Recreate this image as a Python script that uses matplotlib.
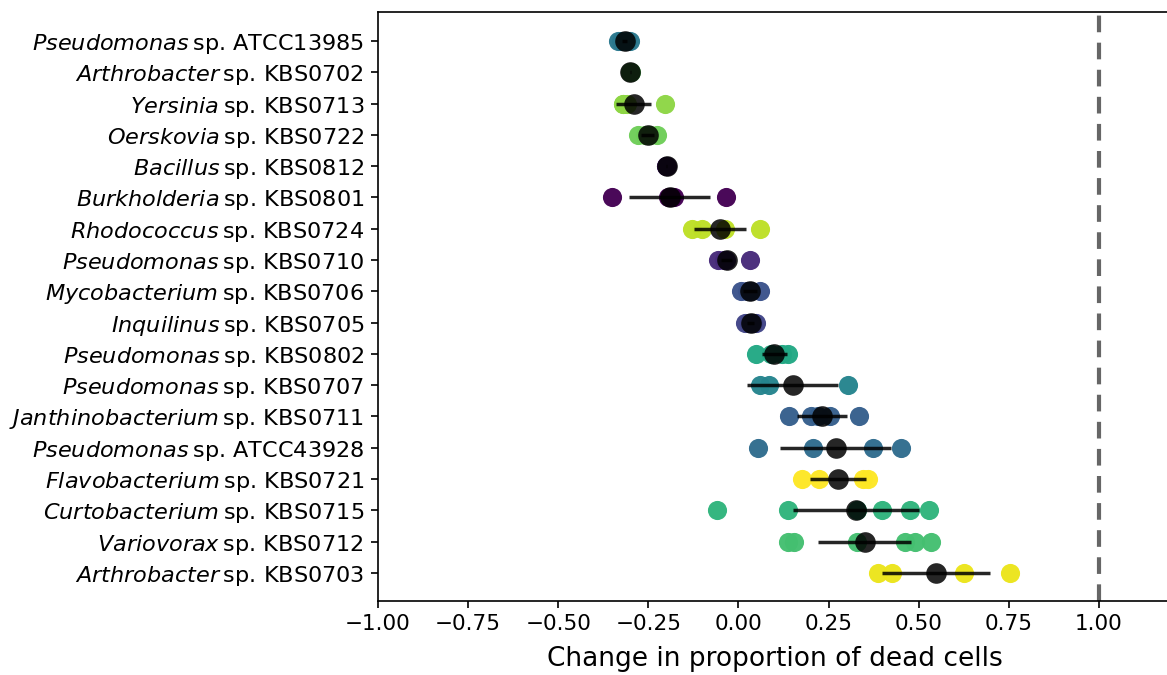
import matplotlib
matplotlib.use("Agg")
import matplotlib.pyplot as plt

genus = ["Pseudomonas", "Arthrobacter", "Yersinia", "Oerskovia", "Bacillus", "Burkholderia",
         "Rhodococcus", "Pseudomonas", "Mycobacterium", "Inquilinus", "Pseudomonas", "Pseudomonas",
         "Janthinobacterium", "Pseudomonas", "Flavobacterium", "Curtobacterium", "Variovorax", "Arthrobacter"]
strain = ["ATCC13985", "KBS0702", "KBS0713", "KBS0722", "KBS0812", "KBS0801",
          "KBS0724", "KBS0710", "KBS0706", "KBS0705", "KBS0802", "KBS0707",
          "KBS0711", "ATCC43928", "KBS0721", "KBS0715", "KBS0712", "KBS0703"]

points = [
    [-0.335, -0.325, -0.30, -0.31],
    [-0.30, -0.298, -0.302],
    [-0.32, -0.32, -0.31, -0.205],
    [-0.28, -0.26, -0.245, -0.225],
    [-0.20, -0.198, -0.202],
    [-0.352, -0.195, -0.185, -0.18, -0.035],
    [-0.128, -0.10, -0.037, 0.060],
    [-0.058, -0.04, -0.035, 0.032],
    [0.008, 0.025, 0.035, 0.06],
    [0.018, 0.03, 0.04, 0.05],
    [0.048, 0.09, 0.12, 0.138],
    [0.06, 0.086, 0.304],
    [0.141, 0.20, 0.22, 0.255, 0.334],
    [0.053, 0.206, 0.374, 0.450],
    [0.176, 0.223, 0.345, 0.36],
    [-0.06, 0.137, 0.33, 0.399, 0.477, 0.53],
    [0.137, 0.153, 0.329, 0.463, 0.491, 0.534],
    [0.386, 0.426, 0.626, 0.753],
]
means = [-0.316, -0.30, -0.291, -0.252, -0.199, -0.191, -0.051, -0.033, 0.032, 0.034,
         0.099, 0.150, 0.232, 0.270, 0.276, 0.325, 0.350, 0.548]
errors = [0.008, 0.002, 0.048, 0.017, 0.002, 0.112, 0.071, 0.015, 0.020, 0.010,
          0.035, 0.126, 0.070, 0.154, 0.078, 0.175, 0.130, 0.150]
color_frac = [0.40, 0.75, 0.83, 0.78, 0.08, 0.0, 0.90, 0.12, 0.25, 0.20,
              0.60, 0.45, 0.30, 0.35, 1.0, 0.65, 0.70, 0.97]
xticks = [-1.0, -0.75, -0.5, -0.25, 0.0, 0.25, 0.5, 0.75, 1.0]

fig = plt.figure(figsize=(11.67, 6.75), dpi=100)
W, H = 1167, 675
ax = fig.add_axes([378 / W, (H - 601) / H, (1171 - 378) / W, (601 - 12) / H])

cmap = matplotlib.colormaps["viridis"]
for i, (pts, m, e, c) in enumerate(zip(points, means, errors, color_frac)):
    ax.scatter(pts, [i] * len(pts), s=190, color=cmap(c), alpha=0.97, linewidths=0, zorder=2)
    ax.plot([m - e, m + e], [i, i], color="k", lw=2.5, alpha=0.85, zorder=3, solid_capstyle="butt")
    ax.scatter([m], [i], s=220, color="k", alpha=0.85, linewidths=0, zorder=4)

ax.axvline(1.0, color="#666666", lw=3, ls=(0, (4, 2.5)), zorder=1)

labels = [r"$\it{%s}$" % g + "\u2009sp. " + s for g, s in zip(genus, strain)]
ax.set_yticks(range(len(labels)))
ax.set_yticklabels(labels, fontsize=16.1)
ax.set_ylim(17.9, -0.93)
ax.set_xlim(-1.0, 1.2)
ax.set_xticks(xticks)
ax.tick_params(axis="x", labelsize=15.5, length=5, width=1.2, pad=4.3)
ax.tick_params(axis="y", length=5, width=1.2, pad=5)
ax.set_xlabel("Change in proportion of dead cells", fontsize=19, labelpad=8.5)
for sp in ax.spines.values():
    sp.set_linewidth(1.2)

fig.savefig("out.png", dpi=100)
